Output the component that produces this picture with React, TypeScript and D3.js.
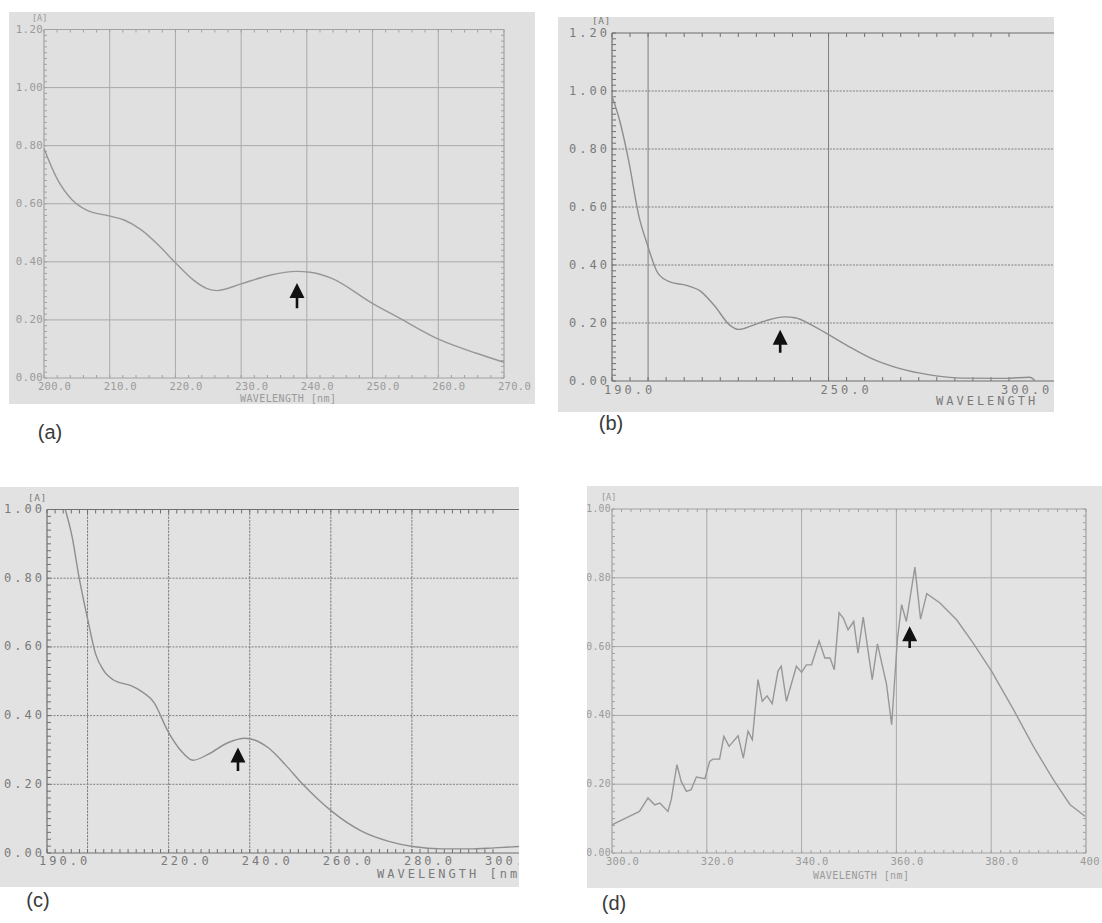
import React from "react";
import * as d3 from "d3";

// ---------- data ----------
const aWavelength = [200, 201.9, 204.3, 206.4, 209.9, 212.2, 214.8, 217.4, 219.9, 222.7, 224.8, 226.3, 230, 234.2, 238.4, 240.5, 243.7, 249.9, 254.1, 260.2, 265.7, 270];
const aAbsorbance = [0.79, 0.69, 0.613, 0.579, 0.558, 0.544, 0.51, 0.458, 0.399, 0.338, 0.308, 0.301, 0.324, 0.353, 0.367, 0.364, 0.344, 0.258, 0.206, 0.132, 0.086, 0.054];

const bWavelength = [190, 192.1, 194.6, 197.5, 199.7, 202.8, 206.2, 210.6, 214.5, 218.3, 222.7, 225.1, 229, 232.9, 237.8, 240.7, 245.5, 250.4, 256.2, 262, 269.8, 277.6, 287.3, 298.9, 305.7, 307.2];
const bAbsorbance = [0.982, 0.899, 0.761, 0.566, 0.474, 0.37, 0.341, 0.33, 0.31, 0.261, 0.192, 0.178, 0.192, 0.209, 0.221, 0.218, 0.192, 0.157, 0.115, 0.077, 0.0425, 0.022, 0.01, 0.009, 0.013, 0.002];

const cWavelength = [192, 194.5, 196.2, 197.9, 200.1, 202, 204, 206.5, 210.7, 213.1, 216.4, 219.8, 223.1, 226, 229.7, 234.6, 238.8, 241.2, 244.5, 248.7, 252.8, 256.9, 260.2, 267.7, 274.3, 280.2, 287.5, 294.1, 300.3, 306.4];
const cAbsorbance = [1.08, 1.0, 0.92, 0.803, 0.677, 0.579, 0.531, 0.503, 0.487, 0.472, 0.438, 0.355, 0.297, 0.27, 0.287, 0.321, 0.334, 0.329, 0.307, 0.258, 0.204, 0.156, 0.122, 0.063, 0.034, 0.019, 0.012, 0.012, 0.015, 0.019];

const dWavelength = [300, 303, 305.8, 307.6, 309, 310.1, 311.8, 312.5, 313.7, 314.6, 315.7, 316.7, 317.8, 319.6, 320.6, 321.3, 322.7, 323.6, 324.7, 326.6, 327.7, 328.7, 329.6, 330.8, 331.7, 332.7, 333.8, 335, 335.7, 336.8, 338.9, 340, 341, 342.1, 343.7, 344.9, 346, 346.9, 347.9, 348.8, 349.8, 351, 351.9, 353, 354.9, 356, 357.9, 359, 360.2, 361.1, 362.1, 363.9, 365.1, 366.4, 369.2, 372.7, 376.2, 380.1, 384.7, 388.9, 393.1, 396.6, 399.8];
const dAbsorbance = [0.082, 0.102, 0.121, 0.16, 0.14, 0.145, 0.121, 0.155, 0.257, 0.208, 0.179, 0.184, 0.221, 0.216, 0.266, 0.273, 0.273, 0.339, 0.31, 0.341, 0.276, 0.354, 0.329, 0.504, 0.441, 0.457, 0.434, 0.528, 0.543, 0.441, 0.543, 0.525, 0.547, 0.547, 0.616, 0.567, 0.567, 0.533, 0.698, 0.683, 0.649, 0.673, 0.581, 0.686, 0.504, 0.608, 0.492, 0.373, 0.62, 0.722, 0.673, 0.831, 0.68, 0.754, 0.727, 0.678, 0.61, 0.528, 0.417, 0.31, 0.213, 0.141, 0.107];

// tick labels / grid values
const aXTicks = [200, 210, 220, 230, 240, 250, 260, 270];
const aYTicks = [0, 0.2, 0.4, 0.6, 0.8, 1.0, 1.2];
const bXLabels = [190, 250, 300];
const bXGrid = [200, 250, 300];
const bYTicks = [0, 0.2, 0.4, 0.6, 0.8, 1.0, 1.2];
const cXLabels = [190, 220, 240, 260, 280, 300];
const cXGrid = [200, 220, 240, 260, 280, 300];
const cYTicks = [0, 0.2, 0.4, 0.6, 0.8, 1.0];
const dXTicks = [300, 320, 340, 360, 380, 400];
const dYTicks = [0, 0.2, 0.4, 0.6, 0.8, 1.0];

// arrow markers: [wavelength, tip absorbance, tail absorbance]
const aArrow = [238.5, 0.327, 0.24];
const bArrow = [236.6, 0.177, 0.097];
const cArrow = [237.1, 0.307, 0.239];
const dArrow = [362.8, 0.659, 0.596];

const panelLabels = ["(a)", "(b)", "(c)", "(d)"];

type Cfg = {
  id: string;
  bg: [number, number, number, number];
  bgColor: string;
  xDomain: [number, number];
  xRange: [number, number];
  yDomain: [number, number];
  yRange: [number, number];
  xs: number[];
  ys: number[];
  xLabels: number[];
  xGrid: number[];
  yTicks: number[];
  xMinor: number;
  yMinor: number;
  dark: boolean;
  boxRight: boolean;
  xTitle: string;
  xTitlePos: [number, number];
  aPos: [number, number];
  yLabelFs: number;
  xLabelFs: number;
  xLabelDy: number;
  arrow: number[];
  curve: any;
  label: string;
  labelPos: [number, number];
};

const Panel = ({ c }: { c: Cfg }) => {
  const x = d3.scaleLinear().domain(c.xDomain).range(c.xRange);
  const y = d3.scaleLinear().domain(c.yDomain).range(c.yRange);
  const [bx0, by0, bx1, by1] = c.bg;
  const xEnd = c.boxRight ? c.xRange[1] : bx1 + 5;
  const pts: [number, number][] = c.xs.map((v, i) => [v, c.ys[i]]);
  const line = d3.line<[number, number]>().x((d) => x(d[0])).y((d) => y(d[1])).curve(c.curve);

  const gridCol = c.dark ? "#7f7f7f" : "#aaaaaa";
  const axisCol = c.dark ? "#6f6f6f" : "#a2a2a2";
  const textCol = c.dark ? "#7a7a7a" : "#9a9a9a";
  const curveCol = c.dark ? "#8e8e8e" : "#979797";
  const ls = c.dark ? 3 : 0.3;
  const font = "DejaVu Sans Mono, monospace";

  const xMaxVal = x.invert(xEnd);
  const xMinorVals = d3.range(c.xDomain[0], Math.min(xMaxVal, c.xDomain[1] + 1e-6) + 1e-6, c.xMinor);
  const yMinorVals = d3.range(c.yDomain[0], c.yDomain[1] + 1e-6, c.yMinor);
  const tl = c.dark ? 4 : 3;

  const [an, atip, atail] = c.arrow;
  const ax = x(an);
  const ay = y(atip);
  const ayTail = y(atail);
  const head = 15;
  const arrowPath = `M${ax},${ay} L${ax + 7.5},${ay + head} L${ax + 1.3},${ay + head} L${ax + 1.3},${ayTail} L${ax - 1.3},${ayTail} L${ax - 1.3},${ay + head} L${ax - 7.5},${ay + head} Z`;

  const top = c.yRange[1];
  const bottom = c.yRange[0];
  const left = c.xRange[0];

  return (
    <g>
      <defs>
        <clipPath id={`clip-${c.id}`}>
          <rect x={bx0} y={by0} width={bx1 - bx0} height={by1 - by0} />
        </clipPath>
        <clipPath id={`plot-${c.id}`}>
          <rect x={left} y={top} width={xEnd - left} height={bottom - top} />
        </clipPath>
      </defs>
      <rect x={bx0} y={by0} width={bx1 - bx0} height={by1 - by0} fill={c.bgColor} />
      <g clipPath={`url(#clip-${c.id})`}>
        {/* horizontal grid */}
        {c.yTicks.filter((t) => t > c.yDomain[0] && t < c.yDomain[1]).map((t) => (
          <line key={`hy${t}`} x1={left} x2={xEnd} y1={y(t)} y2={y(t)} stroke={gridCol} strokeWidth={1}
            strokeDasharray={c.dark ? "2 1.3" : undefined} />
        ))}
        {/* vertical grid */}
        {c.xGrid.filter((t) => t > c.xDomain[0] && t < c.xDomain[1]).map((t) => (
          <line key={`vx${t}`} x1={x(t)} x2={x(t)} y1={top} y2={bottom} stroke={gridCol} strokeWidth={1}
            strokeDasharray={c.dark && c.id === "c" ? "2.5 1" : undefined} />
        ))}
        {/* axes */}
        <line x1={left} x2={xEnd} y1={top} y2={top} stroke={axisCol} strokeWidth={1.2} />
        <line x1={left} x2={xEnd} y1={bottom} y2={bottom} stroke={axisCol} strokeWidth={1.2} />
        <line x1={left} x2={left} y1={top} y2={bottom} stroke={axisCol} strokeWidth={1.2} />
        {c.boxRight && <line x1={c.xRange[1]} x2={c.xRange[1]} y1={top} y2={bottom} stroke={axisCol} strokeWidth={1.2} />}
        {/* minor ticks */}
        {xMinorVals.map((t, i) => (
          <g key={`mx${i}`}>
            <line x1={x(t)} x2={x(t)} y1={top} y2={top + tl} stroke={axisCol} strokeWidth={1} />
            <line x1={x(t)} x2={x(t)} y1={bottom} y2={bottom - tl} stroke={axisCol} strokeWidth={1} />
          </g>
        ))}
        {yMinorVals.map((t, i) => (
          <g key={`my${i}`}>
            <line x1={left} x2={left + tl} y1={y(t)} y2={y(t)} stroke={axisCol} strokeWidth={1} />
            {c.boxRight && <line x1={c.xRange[1]} x2={c.xRange[1] - tl} y1={y(t)} y2={y(t)} stroke={axisCol} strokeWidth={1} />}
          </g>
        ))}
        {/* curve */}
        <path d={line(pts) || ""} fill="none" stroke={curveCol} strokeWidth={1.4} clipPath={`url(#plot-${c.id})`} />
        {/* tick labels */}
        {c.yTicks.map((t) => (
          <text key={`yl${t}`} x={left - (c.dark ? 2 : 1)} y={y(t)} textAnchor="end" dominantBaseline="middle"
            fontFamily={font} fontSize={c.yLabelFs} letterSpacing={ls} fill={textCol}>
            {d3.format(".2f")(t)}
          </text>
        ))}
        {c.xLabels.map((t) => (
          <text key={`xl${t}`} x={x(t) - (c.dark ? 8 : 6)} y={bottom + c.xLabelDy} textAnchor="start" dominantBaseline="middle"
            fontFamily={font} fontSize={c.xLabelFs} letterSpacing={ls} fill={textCol}>
            {d3.format(".1f")(t)}
          </text>
        ))}
        <text x={c.xTitlePos[0]} y={c.xTitlePos[1]} dominantBaseline="middle" fontFamily={font}
          fontSize={c.dark ? 12 : 10} letterSpacing={c.dark ? 3 : 0.4} fill={textCol}>
          {c.xTitle}
        </text>
        <text x={c.aPos[0]} y={c.aPos[1]} dominantBaseline="middle" fontFamily={font}
          fontSize={c.dark ? 9.5 : 8.5} letterSpacing={c.dark ? 0.5 : 0} fill={textCol}>
          [A]
        </text>
        {/* arrow */}
        <path d={arrowPath} fill="#111" />
      </g>
      <text x={c.labelPos[0]} y={c.labelPos[1]} textAnchor="middle" dominantBaseline="middle"
        fontFamily="Liberation Sans, Arial, sans-serif" fontSize={20} fill="#3a3a3a">
        {c.label}
      </text>
    </g>
  );
};

const configs: Cfg[] = [
  {
    id: "a", bg: [9, 12, 535, 404], bgColor: "#e0e0e0",
    xDomain: [200, 270], xRange: [44, 504], yDomain: [0, 1.2], yRange: [378, 29.5],
    xs: aWavelength, ys: aAbsorbance, xLabels: aXTicks, xGrid: aXTicks, yTicks: aYTicks,
    xMinor: 2, yMinor: 0.02, dark: false, boxRight: true,
    xTitle: "WAVELENGTH [nm]", xTitlePos: [240, 398.5], aPos: [32, 18], yLabelFs: 10.8, xLabelFs: 10.5, xLabelDy: 8.5, arrow: aArrow,
    curve: d3.curveMonotoneX, label: panelLabels[0], labelPos: [50, 434],
  },
  {
    id: "b", bg: [558, 17, 1054, 412], bgColor: "#e1e1e1",
    xDomain: [190, 300], xRange: [612, 1009], yDomain: [0, 1.2], yRange: [381, 33],
    xs: bWavelength, ys: bAbsorbance, xLabels: bXLabels, xGrid: bXGrid, yTicks: bYTicks,
    xMinor: 5, yMinor: 0.02, dark: true, boxRight: false,
    xTitle: "WAVELENGTH", xTitlePos: [936, 401], aPos: [592, 21.5], yLabelFs: 12, xLabelFs: 12, xLabelDy: 9, arrow: bArrow,
    curve: d3.curveMonotoneX, label: panelLabels[1], labelPos: [611, 425],
  },
  {
    id: "c", bg: [0, 487, 519, 887], bgColor: "#e2e2e2",
    xDomain: [190, 300], xRange: [47, 493], yDomain: [0, 1.0], yRange: [853, 509.5],
    xs: cWavelength, ys: cAbsorbance, xLabels: cXLabels, xGrid: cXGrid, yTicks: cYTicks,
    xMinor: 2, yMinor: 0.02, dark: true, boxRight: false,
    xTitle: "WAVELENGTH [nm]", xTitlePos: [377, 874], aPos: [28, 498], yLabelFs: 12, xLabelFs: 12, xLabelDy: 8, arrow: cArrow,
    curve: d3.curveMonotoneX, label: panelLabels[2], labelPos: [38, 902],
  },
  {
    id: "d", bg: [587, 486, 1102, 888], bgColor: "#e3e3e3",
    xDomain: [300, 400], xRange: [612, 1086], yDomain: [0, 1.0], yRange: [853, 509],
    xs: dWavelength, ys: dAbsorbance, xLabels: dXTicks, xGrid: dXTicks, yTicks: dYTicks,
    xMinor: 2, yMinor: 0.02, dark: false, boxRight: true,
    xTitle: "WAVELENGTH [nm]", xTitlePos: [813, 875.5], aPos: [601, 497], yLabelFs: 9.8, xLabelFs: 10.5, xLabelDy: 9, arrow: dArrow,
    curve: d3.curveLinear, label: panelLabels[3], labelPos: [614, 905],
  },
];

export default function App() {
  return (
    <svg width={1102} height={923} viewBox="0 0 1102 923"
      style={{ position: "absolute", left: 0, top: 0, background: "#ffffff" }}>
      <rect x={0} y={0} width={1102} height={923} fill="#ffffff" />
      {configs.map((c) => (
        <Panel key={c.id} c={c} />
      ))}
    </svg>
  );
}
